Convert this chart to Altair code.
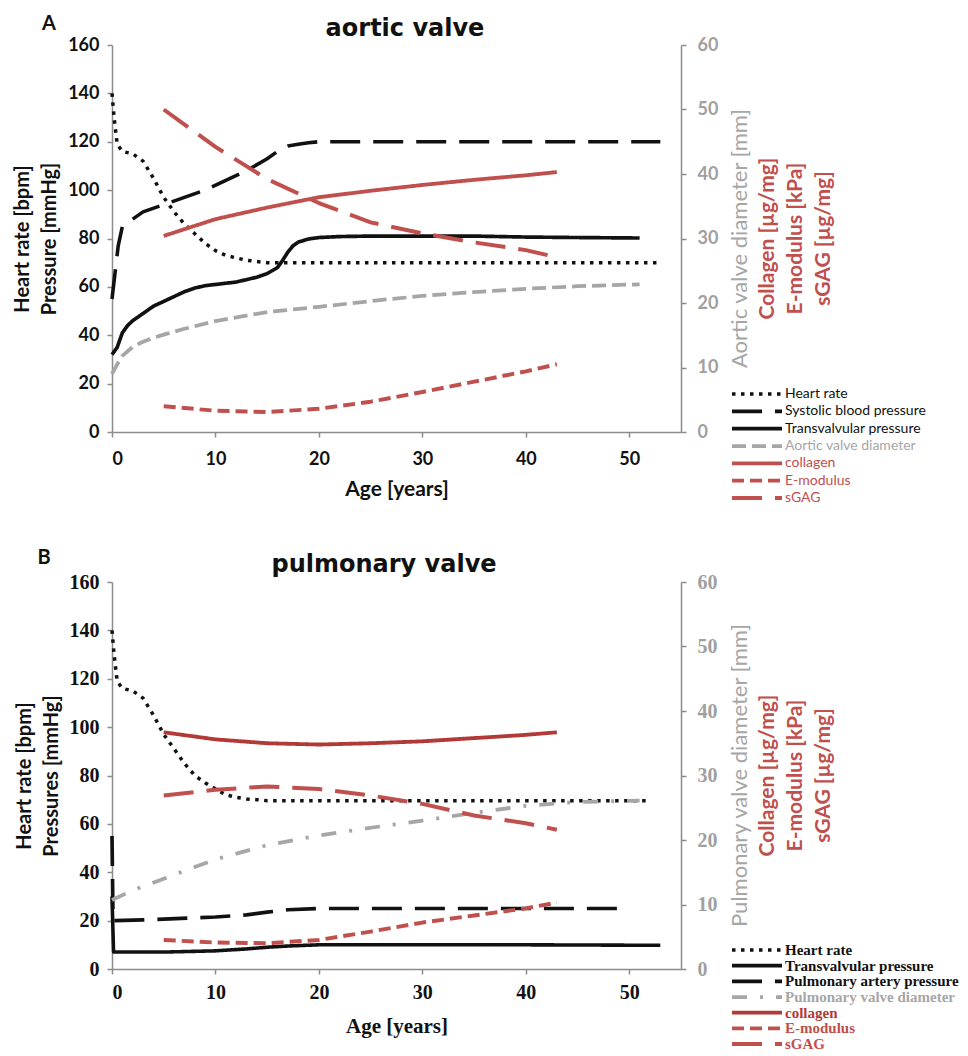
import altair as alt
import pandas as pd

SANS = "Lato"
TITLE_FONT = "DejaVu Sans"
SERIF = "Liberation Serif"
BLACK = "#111111"
GREY = "#a6a6a6"
AXGREY = "#8c8c8c"
RED = "#c0504d"
RED2 = "#b23a36"

# ---------------- Panel A: aortic valve ----------------
A_HR_AGE = [0, 0.2, 0.5, 1, 2, 3, 4, 5, 6, 7, 8, 9, 10, 11, 12, 13, 14, 15, 20, 30, 40, 53]
A_HR_VAL = [140, 130, 119, 116, 115, 112, 105, 97, 91, 86, 82, 78, 75, 73, 72, 71, 70.5, 70, 70, 70, 70, 70]

A_SBP_AGE = [0, 0.3, 0.6, 1, 2, 3, 5, 7, 9, 11, 13, 15, 16, 17, 18, 19, 20, 30, 40, 53]
A_SBP_VAL = [55, 66, 77, 85, 88, 91, 94, 97, 100, 104, 108, 113, 116, 118.2, 119, 119.6, 120, 120, 120, 120]

A_TVP_AGE = [0, 0.5, 1, 1.5, 2, 3, 4, 5, 6, 7, 8, 9, 10, 11, 12, 13, 14, 15, 16, 16.5, 17, 17.5, 18, 19, 20, 22, 25, 30, 35, 40, 45, 51]
A_TVP_VAL = [32, 35, 41, 44, 46, 49, 52, 54, 56, 58, 59.5, 60.5, 61, 61.5, 62, 63, 64, 65.5, 68, 71, 74.4, 77, 78.5, 79.8, 80.4, 80.8, 81, 81, 81, 80.6, 80.4, 80.2]

A_DIA_AGE = [0, 0.5, 1, 2, 3, 4, 5, 7, 10, 15, 20, 25, 30, 35, 40, 45, 51]
A_DIA_VAL = [9, 10.5, 11.8, 13.2, 14.0, 14.6, 15.1, 16.0, 17.2, 18.6, 19.4, 20.3, 21.1, 21.7, 22.2, 22.6, 22.9]

A_COL_AGE = [5, 10, 15, 20, 25, 30, 35, 40, 43]
A_COL_VAL = [30.4, 33.0, 34.8, 36.4, 37.4, 38.3, 39.1, 39.8, 40.3]

A_EMO_AGE = [5, 10, 15, 20, 25, 30, 35, 40, 43]
A_EMO_VAL = [4.0, 3.3, 3.1, 3.6, 4.7, 6.2, 7.8, 9.4, 10.5]

A_GAG_AGE = [5, 10, 15, 20, 25, 30, 35, 40, 43]
A_GAG_VAL = [50, 44.2, 39.2, 35.5, 32.5, 30.8, 29.4, 28.2, 27.1]

# ---------------- Panel B: pulmonary valve ----------------
B_HR_AGE = [0, 0.2, 0.5, 1, 2, 3, 4, 5, 6, 7, 8, 9, 10, 11, 12, 13, 14, 15, 20, 30, 40, 52]
B_HR_VAL = [140, 130, 119, 116, 115, 112, 105, 97, 91, 85, 80, 77, 74.5, 72, 71, 70.3, 70, 69.6, 69.6, 69.6, 69.6, 69.6]

B_TVP_AGE = [0, 0.15, 1, 5, 10, 13, 15, 17, 20, 30, 40, 53]
B_TVP_VAL = [30, 7, 7, 7, 7.5, 8.3, 9, 9.5, 10, 10, 10, 9.8]

B_PAP_AGE = [0, 0.1, 3, 5, 10, 13, 15, 17, 20, 30, 40, 50]
B_PAP_VAL = [55, 20, 20.3, 20.6, 21.5, 22.4, 23.5, 24.5, 25, 25, 25, 25]

B_DIA_AGE = [0, 2, 5, 8, 10, 15, 20, 25, 30, 35, 40, 45, 51]
B_DIA_VAL = [10.7, 12.2, 14.0, 15.8, 17.0, 19.2, 20.7, 21.9, 23.0, 24.2, 25.3, 25.9, 26.1]

B_COL_AGE = [5, 10, 15, 20, 25, 30, 35, 40, 43]
B_COL_VAL = [36.7, 35.6, 35.0, 34.8, 35.0, 35.3, 35.8, 36.3, 36.7]

B_EMO_AGE = [5, 10, 15, 20, 25, 30, 35, 40, 43]
B_EMO_VAL = [4.5, 4.1, 4.0, 4.5, 5.8, 7.2, 8.3, 9.4, 10.3]

B_GAG_AGE = [5, 10, 15, 20, 25, 30, 35, 40, 43]
B_GAG_VAL = [26.9, 27.8, 28.3, 27.9, 26.9, 25.6, 23.8, 22.6, 21.6]

X_TICKS = [0, 10, 20, 30, 40, 50]
LEFT_TICKS = [0, 20, 40, 60, 80, 100, 120, 140, 160]
RIGHT_TICKS = [0, 10, 20, 30, 40, 50, 60]

DOT = [3.5, 5.5]
LONG = [30, 13]
MED = [14, 6]
SHORT = [12, 6]
DASHDOT = [15, 13, 3, 13]
SOLID = [1, 0]

SERIES_A = [
    ("Heart rate", A_HR_AGE, A_HR_VAL, "left", BLACK, DOT, 3.5),
    ("Systolic blood pressure", A_SBP_AGE, A_SBP_VAL, "left", BLACK, LONG, 4),
    ("Transvalvular pressure", A_TVP_AGE, A_TVP_VAL, "left", BLACK, SOLID, 3.5),
    ("Aortic valve diameter", A_DIA_AGE, A_DIA_VAL, "right", GREY, MED, 4),
    ("collagen", A_COL_AGE, A_COL_VAL, "right", RED, SOLID, 2.5),
    ("E-modulus", A_EMO_AGE, A_EMO_VAL, "right", RED, SHORT, 3.5),
    ("sGAG", A_GAG_AGE, A_GAG_VAL, "right", RED, LONG, 3),
]

SERIES_B = [
    ("Heart rate", B_HR_AGE, B_HR_VAL, "left", BLACK, DOT, 3.5),
    ("Transvalvular pressure", B_TVP_AGE, B_TVP_VAL, "left", BLACK, SOLID, 4),
    ("Pulmonary artery pressure", B_PAP_AGE, B_PAP_VAL, "left", BLACK, LONG, 4),
    ("Pulmonary valve diameter", B_DIA_AGE, B_DIA_VAL, "right", GREY, DASHDOT, 4),
    ("collagen", B_COL_AGE, B_COL_VAL, "right", RED2, SOLID, 3.5),
    ("E-modulus", B_EMO_AGE, B_EMO_VAL, "right", RED, SHORT, 3.5),
    ("sGAG", B_GAG_AGE, B_GAG_VAL, "right", RED, LONG, 3.5),
]

W = 569
H = 387


def panel(letter, title, series, left_title, right_title, tick_font, tick_size, legend_font,
          legend_size, leg_y0, leg_y1, title_x, letter_x, letter_y, title_y,
          x_label_pad, x_title_pad):
    rows = []
    for name, ages, vals, ax, *_ in series:
        for i, (a, v) in enumerate(zip(ages, vals)):
            rows.append({"series": name, "age": a, "value": v, "axis": ax, "i": i})
    df = pd.DataFrame(rows)
    names = [s[0] for s in series]
    colors = [s[4] for s in series]
    dashes = [s[5] for s in series]
    widths = [s[6] for s in series]

    color = alt.Color("series:N", scale=alt.Scale(domain=names, range=colors), legend=None)
    dash = alt.StrokeDash("series:N", scale=alt.Scale(domain=names, range=dashes), legend=None)
    width = alt.StrokeWidth("series:N", scale=alt.Scale(domain=names, range=widths), legend=None)

    axis_common = dict(grid=False, domainColor=AXGREY, domainWidth=1.5, tickColor=AXGREY,
                       tickWidth=1.5, tickSize=5)

    x = alt.X("age:Q", scale=alt.Scale(domain=[0, 55], nice=False),
              axis=alt.Axis(values=X_TICKS, title="Age [years]",
                            labelFont=tick_font, labelFontSize=tick_size, labelFontWeight="bold",
                            labelColor=BLACK, titleFont=tick_font, titleFontSize=21,
                            titleFontWeight="bold", titleColor=BLACK, titlePadding=x_title_pad,
                            labelPadding=x_label_pad, **axis_common))

    left = alt.Chart(df).transform_filter(alt.datum.axis == "left").mark_line(
        strokeCap="butt", strokeJoin="round").encode(
        x=x,
        y=alt.Y("value:Q", scale=alt.Scale(domain=[0, 160], nice=False),
                axis=alt.Axis(orient="left", values=LEFT_TICKS, title=left_title,
                              labelFont=tick_font, labelFontSize=tick_size, labelFontWeight="bold",
                              labelColor=BLACK, titleFont=SANS, titleFontSize=20,
                              titleFontWeight="bold", titleColor=BLACK, titleLineHeight=27,
                              titlePadding=8, labelPadding=8, **axis_common)),
        color=color, strokeDash=dash, strokeWidth=width, order="i:Q")

    right = alt.Chart(df).transform_filter(alt.datum.axis == "right").mark_line(
        strokeCap="butt", strokeJoin="round").encode(
        x=x,
        y=alt.Y("value:Q", scale=alt.Scale(domain=[0, 60], nice=False),
                axis=alt.Axis(orient="right", values=RIGHT_TICKS, title=None,
                              labelFont=tick_font, labelFontSize=tick_size, labelFontWeight="bold",
                              labelColor="#a0a0a0", labelPadding=11, **axis_common)),
        color=color, strokeDash=dash, strokeWidth=width, order="i:Q")

    leg = pd.DataFrame({"series": names, "row": list(range(len(names)))})
    ly = alt.Y("row:Q", scale=alt.Scale(domain=[0, len(names) - 1], range=[leg_y0, leg_y1]), axis=None)
    leg_rules = alt.Chart(leg).mark_rule(strokeCap="butt").encode(
        x=alt.value(W + 51), x2=alt.value(W + 101), y=ly,
        color=color, strokeDash=dash, strokeWidth=width)
    leg_text = alt.Chart(leg).mark_text(
        align="left", baseline="middle", font=legend_font, fontSize=legend_size,
        fontWeight="bold" if legend_font == SERIF else "normal").encode(
        x=alt.value(W + 104), y=ly, text="series:N", color=color)

    heads = alt.Chart(pd.DataFrame({"t": [letter], "h": [title]}))
    letter_t = heads.mark_text(
        font=SANS, fontSize=20, fontWeight="bold", color=BLACK, align="center",
        baseline="middle").encode(text="t:N", x=alt.value(letter_x), y=alt.value(letter_y))
    title_t = heads.mark_text(
        font=TITLE_FONT, fontSize=24, fontWeight="bold", color=BLACK, align="center",
        baseline="alphabetic").encode(text="h:N", x=alt.value(title_x), y=alt.value(title_y))

    grey_title = alt.Chart(pd.DataFrame({"t": [right_title]})).mark_text(
        angle=270, font=SANS, fontSize=22, color=GREY, align="center",
        baseline="middle").encode(text="t:N", x=alt.value(W + 59), y=alt.value(H / 2))

    red_titles = alt.Chart(pd.DataFrame({"t": [0]})).mark_text(
        text=["Collagen [µg/mg]", "E-modulus [kPa]", "sGAG [µg/mg]"],
        angle=270, font=SANS, fontSize=21, fontWeight="bold", color=RED,
        align="center", baseline="middle", lineHeight=28).encode(
        x=alt.value(W + 87), y=alt.value(H / 2))

    return alt.layer(left, right, leg_rules, leg_text, letter_t, title_t, grey_title,
                     red_titles).resolve_scale(y="independent").properties(width=W, height=H)


chart_a = panel("A", "aortic valve", SERIES_A, ["Heart rate [bpm]", "Pressure [mmHg]"],
                "Aortic valve diameter [mm]", SANS, 18, SANS, 14, 349, 453,
                293, -63, -21, -9, 13, 10)
chart_b = panel("B", "pulmonary valve", SERIES_B, ["Heart rate [bpm]", "Pressures [mmHg]"],
                "Pulmonary valve diameter [mm]", SERIF, 20, SERIF, 15, 368, 462,
                272, -68, -24, -10, 8, 13)

chart = alt.vconcat(chart_a, chart_b, spacing=43).resolve_scale(
    color="independent", strokeDash="independent", strokeWidth="independent",
    x="independent", y="independent").properties(
    padding={"left": 12, "top": 14, "right": 0, "bottom": 0},
    background="white").configure_view(stroke=None)

chart.save("out.html", embed_options={"renderer": "svg", "actions": False})
